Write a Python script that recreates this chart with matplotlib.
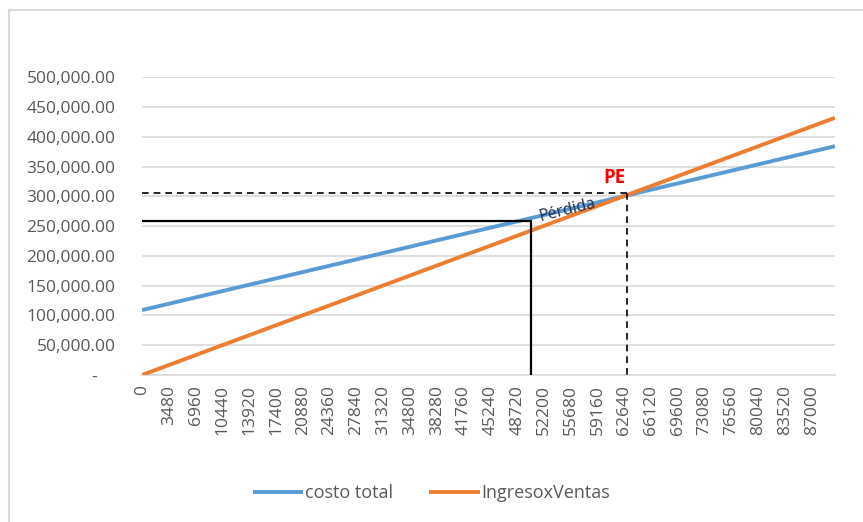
import matplotlib.pyplot as plt
from matplotlib.patches import Rectangle
from matplotlib.ticker import FuncFormatter

# Punto de equilibrio: costo total vs ingresos por ventas
unidades = [0, 90000]
costo_total = [109000, 384300]
ingresos_ventas = [0, 432000]

etiquetas_x = [0, 3480, 6960, 10440, 13920, 17400, 20880, 24360, 27840, 31320,
               34800, 38280, 41760, 45240, 48720, 52200, 55680, 59160, 62640,
               66120, 69600, 73080, 76560, 80040, 83520, 87000]
ticks_y = [0, 50000, 100000, 150000, 200000, 250000, 300000, 350000, 400000, 450000, 500000]

# referencias dibujadas sobre el grafico
perdida_x, perdida_y = 50500, 258000
pe_x, pe_y = 63000, 305000

plt.rcParams['font.family'] = ['Open Sans', 'DejaVu Sans']

fig = plt.figure(figsize=(8.63, 5.22), dpi=100)
ax = fig.add_axes([142 / 863, 1 - 375 / 522, 693 / 863, (375 - 77.3) / 522])

# borde del area del grafico
fig.patches.append(Rectangle((9 / 863, -0.1), 1.2, 1 - 10 / 522 + 0.1,
                             transform=fig.transFigure, fill=False,
                             edgecolor='#D9D9D9', lw=1.5))

ax.plot(unidades, costo_total, color='#5B9BD5', lw=2.8, label='costo total',
        solid_capstyle='butt', zorder=3)
ax.plot(unidades, ingresos_ventas, color='#ED7D31', lw=2.8, label='IngresoxVentas',
        solid_capstyle='butt', zorder=4)

# lineas de la zona de perdida
ax.plot([0, perdida_x, perdida_x], [perdida_y, perdida_y, 0], color='black', lw=1.6, zorder=5,
        solid_joinstyle='miter')
# lineas del punto de equilibrio
ax.plot([0, pe_x], [pe_y, pe_y], color='black', lw=1.2, ls=(0, (4, 3)), zorder=5)
ax.plot([pe_x, pe_x], [pe_y, 0], color='black', lw=1.2, ls=(0, (4, 3)), zorder=5)

ax.text(61300, 331000, 'PE', color='#FF0000', fontsize=13.5, fontweight='bold',
        ha='center', va='center', zorder=6)
ax.text(55300, 276500, 'Pérdida', color='#1F2A44', fontsize=11.5, rotation=14,
        ha='center', va='center', rotation_mode='anchor', zorder=6)

ax.set_xlim(0, 90000)
ax.set_ylim(0, 500000)
ax.set_xticks(etiquetas_x)
ax.set_xticklabels([str(v) for v in etiquetas_x], rotation=90)
ax.set_yticks(ticks_y)


def fmt_y(v, pos):
    if v == 0:
        return '-    '
    return f'{v:,.2f}'


ax.yaxis.set_major_formatter(FuncFormatter(fmt_y))
ax.tick_params(axis='both', length=0, colors='#595959', labelsize=12.5)
ax.tick_params(axis='y', pad=19)
ax.tick_params(axis='x', pad=7)

ax.grid(axis='y', color='#D9D9D9', lw=1.2)
ax.set_axisbelow(True)
for s in ['top', 'right', 'left']:
    ax.spines[s].set_visible(False)
ax.spines['bottom'].set_color('#D9D9D9')
ax.spines['bottom'].set_linewidth(1.2)

leg = fig.legend(loc='center', bbox_to_anchor=(0.5, 1 - 493 / 522), ncol=2, frameon=False,
                 fontsize=13, handlelength=2.8, handletextpad=0.1, columnspacing=2.0)
for t in leg.get_texts():
    t.set_color('#595959')

fig.savefig('out.png', dpi=100)
